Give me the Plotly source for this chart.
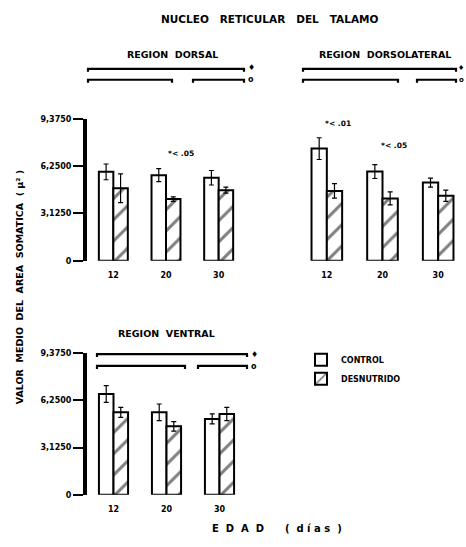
import plotly.graph_objects as go

# ---------------- data ----------------
ages = ["12", "20", "30"]
x_pos = [0, 1, 2]

dorsal_control = [5880, 5660, 5490]
dorsal_control_err = [520, 430, 480]
dorsal_desn = [4800, 4080, 4670]
dorsal_desn_err = [950, 150, 200]

dorsolat_control = [7420, 5900, 5170]
dorsolat_control_err = [720, 460, 300]
dorsolat_desn = [4620, 4120, 4300]
dorsolat_desn_err = [480, 430, 370]

ventral_control = [6670, 5460, 5020]
ventral_control_err = [550, 550, 330]
ventral_desn = [5460, 4530, 5350]
ventral_desn_err = [330, 310, 440]

y_tickvals = [0, 3125, 6250, 9375]
y_ticktext = ["0", "3,1250", "6,2500", "9,3750"]

series_names = ["CONTROL", "DESNUTRIDO"]

# ---------------- layout helpers ----------------
W, H = 466, 547


def fx(px):
    return px / W


def fy(py):
    return 1 - py / H


FONT = "DejaVu Sans"

fig = go.Figure()

panels = [
    ("x", "y", dorsal_control, dorsal_control_err, dorsal_desn, dorsal_desn_err, True),
    ("x2", "y2", dorsolat_control, dorsolat_control_err, dorsolat_desn, dorsolat_desn_err, False),
    ("x3", "y3", ventral_control, ventral_control_err, ventral_desn, ventral_desn_err, False),
]

for xa, ya, c, ce, d, de, show in panels:
    fig.add_trace(go.Bar(
        x=x_pos, y=c, name=series_names[0], xaxis=xa, yaxis=ya,
        showlegend=show, legendgroup="c",
        marker=dict(color="white", line=dict(color="black", width=2)),
        error_y=dict(type="data", array=ce, color="black", thickness=1.2, width=2.5),
    ))
    fig.add_trace(go.Bar(
        x=x_pos, y=d, name=series_names[1], xaxis=xa, yaxis=ya,
        showlegend=show, legendgroup="d",
        marker=dict(color="white", line=dict(color="black", width=2),
                    pattern=dict(shape="/", fgcolor="black", bgcolor="white",
                                 size=15, solidity=0.2)),
        error_y=dict(type="data", array=de, color="black", thickness=1.2, width=2.5),
    ))

xaxis_common = dict(range=[-0.5, 2.5], tickvals=x_pos, ticktext=ages,
                    showgrid=False, zeroline=False, showline=False, ticks="",
                    ticklabelstandoff=8,
                    tickfont=dict(family=FONT, size=8, color="black", weight="bold"),
                    fixedrange=True)
yaxis_common = dict(range=[0, 9375], tickvals=y_tickvals, ticktext=y_ticktext,
                    showgrid=False, zeroline=False, showline=True,
                    linecolor="black", linewidth=4, ticks="outside",
                    ticklen=10, tickwidth=1.5, tickcolor="black",
                    tickfont=dict(family=FONT, size=8, color="black", weight="bold"),
                    fixedrange=True)

fig.update_layout(
    width=W, height=H, autosize=False,
    margin=dict(l=0, r=0, t=0, b=0, pad=0),
    paper_bgcolor="white", plot_bgcolor="white",
    barmode="group", bargap=0.45, bargroupgap=0.0,
    font=dict(family=FONT, color="black"),
    xaxis=dict(domain=[fx(87), fx(245)], anchor="y", **xaxis_common),
    yaxis=dict(domain=[fy(261), fy(117)], anchor="x", **yaxis_common),
    xaxis2=dict(domain=[fx(299), fx(466)], anchor="y2", **xaxis_common),
    yaxis2=dict(domain=[fy(261), fy(117)], anchor="x2", visible=False,
                range=[0, 9375]),
    xaxis3=dict(domain=[fx(87), fx(246)], anchor="y3", **xaxis_common),
    yaxis3=dict(domain=[fy(499), fy(355)], anchor="x3", **yaxis_common),
    legend=dict(x=fx(301), y=fy(347), xanchor="left", yanchor="top",
                font=dict(family=FONT, size=8, color="black", weight="bold"),
                bgcolor="rgba(0,0,0,0)", itemwidth=30, tracegroupgap=2,
                traceorder="normal"),
)


def ann(text, px, py, size=8, **kw):
    fig.add_annotation(text=text, x=fx(px), y=fy(py), xref="paper", yref="paper",
                       showarrow=False, xanchor="center", yanchor="middle",
                       font=dict(family=FONT, size=size, color="black", weight="bold"),
                       **kw)


ann("NUCLEO   RETICULAR   DEL   TALAMO", 269, 15, size=10.5)
ann("REGION  DORSAL", 172, 51, size=9.5)
ann("REGION  DORSOLATERAL", 385, 51, size=9.5)
ann("REGION  VENTRAL", 166, 335, size=9.5)
ann("*< .05", 181, 152, size=7.5)
ann("*< .01", 338, 121, size=7.5)
ann("*< .05", 394, 144, size=7.5)
ann("VALOR  MEDIO  DEL  AREA  SOMATICA  ( µ² )", 19, 288, size=9.5, textangle=-90)
ann("E  D  A  D      (  d í a s  )", 277, 533, size=10)


def bracket(x0, x1, py):
    path = (f"M {fx(x0)},{fy(py + 3)} L {fx(x0)},{fy(py)} "
            f"L {fx(x1)},{fy(py)} L {fx(x1)},{fy(py + 3)}")
    fig.add_shape(type="path", path=path, xref="paper", yref="paper",
                  line=dict(color="black", width=2.2))


# top-left brackets
bracket(88, 244, 66)
bracket(88, 172, 77)
bracket(193, 244, 77)
ann("♦", 251, 65, size=8)
ann("o", 251, 77, size=8)
# top-right brackets
bracket(303, 456, 66)
bracket(303, 398, 77)
bracket(417, 456, 77)
ann("♦", 461, 65, size=7)
ann("o", 461, 77, size=7)
# bottom brackets
bracket(97, 247, 356)
bracket(97, 185, 368)
bracket(198, 247, 368)
ann("♦", 254, 356, size=8)
ann("o", 254, 369, size=8)

fig.write_html("out.html", config={"displayModeBar": False},
               post_script="document.body.style.margin='0px';")
